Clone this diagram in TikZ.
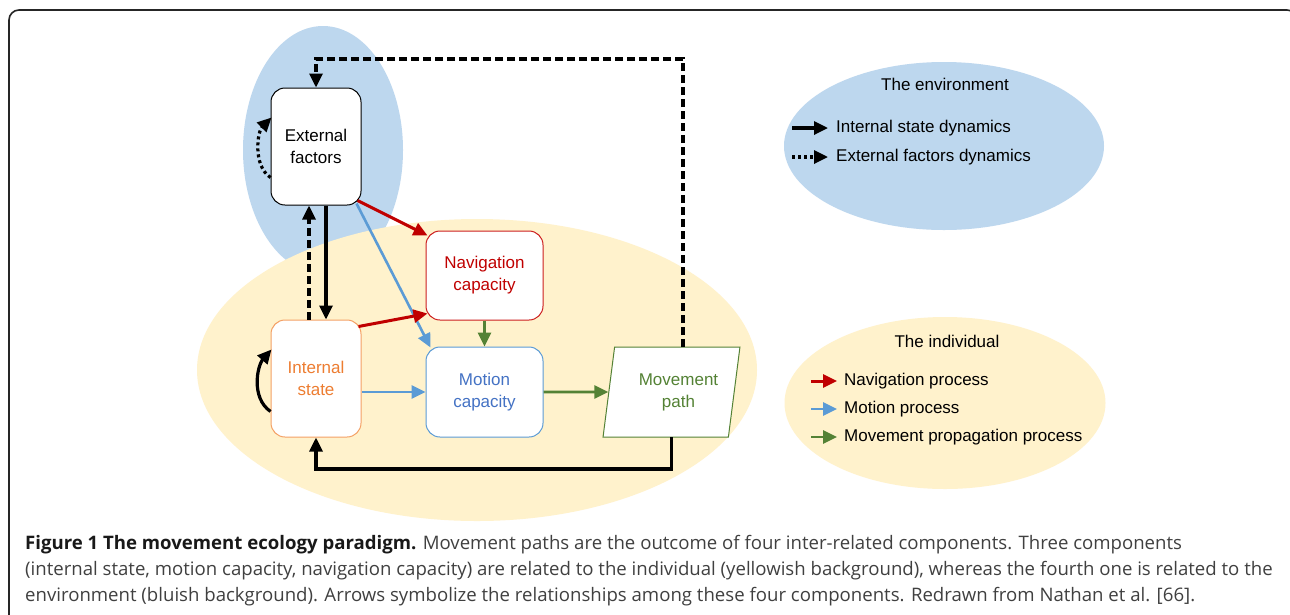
\documentclass[tikz,border=0pt]{standalone}
\usepackage{fontspec}
\setmainfont{Liberation Sans}
\newfontfamily\capfont{Open Sans}
\usetikzlibrary{arrows.meta,shapes.geometric,calc}
\definecolor{envblue}{RGB}{189,215,238}
\definecolor{indyellow}{RGB}{255,242,204}
\definecolor{navred}{RGB}{192,0,0}
\definecolor{navborder}{RGB}{204,30,30}
\definecolor{motblue}{RGB}{91,155,213}
\definecolor{mottext}{RGB}{68,114,196}
\definecolor{movgreen}{RGB}{84,130,53}
\definecolor{intorange}{RGB}{237,125,49}
\definecolor{intborder}{RGB}{244,160,100}
\definecolor{captext}{RGB}{64,64,64}
\tikzset{
  boxnode/.style={draw, fill=white, rounded corners=14pt, line width=1pt, align=center,
    inner sep=0pt, font=\fontsize{17}{22}\selectfont},
  tallbox/.style={boxnode, minimum width=90pt, minimum height=117pt},
  widebox/.style={boxnode, minimum width=117pt, minimum height=89pt},
  tip/.style={-{Triangle[length=14pt,width=13pt]}},
  blackarrow/.style={tip, line width=3.2pt, black},
  dasharrow/.style={blackarrow, dash pattern=on 8pt off 4pt},
  dotarrow/.style={blackarrow, dash pattern=on 3pt off 3pt},
  redarrow/.style={tip, line width=3pt, navred},
  bluearrow/.style={tip, line width=2.6pt, motblue},
  greenarrow/.style={tip, line width=2.9pt, movgreen},
  legtext/.style={anchor=west, inner sep=0pt, font=\fontsize{17}{20}\selectfont},
  captxt/.style={anchor=base west, inner sep=0pt, font=\capfont\fontsize{18.6}{22}\selectfont, text=captext}
}
\begin{document}
\begin{tikzpicture}[x=1pt,y=-1pt]
\useasboundingbox (0,0) rectangle (1290,614);
\fill[white] (0,0) rectangle (1290,614);
% frame
\draw[line width=1.6pt, black!85, rounded corners=10pt] (9,660) -- (9,10) -- (1297,10) -- (1297,660);
% backgrounds
\fill[envblue] (323,150) ellipse [x radius=80pt, y radius=124pt];
\fill[indyellow] (477,370) ellipse [x radius=280pt, y radius=151pt];
\fill[envblue] (944,146) ellipse [x radius=160pt, y radius=84pt];
\fill[indyellow] (945,403) ellipse [x radius=160.5pt, y radius=86pt];
% nodes
\node[tallbox] (ext) at (316,146.5) {External\\factors};
\node[tallbox, draw=intborder, text=intorange] (int) at (316,378.5) {Internal\\state};
\node[widebox, draw=navborder, text=navred] (nav) at (484.5,275.5) {Navigation\\capacity};
\node[widebox, minimum height=90pt, draw=motblue, text=mottext] (mot) at (484.5,392) {Motion\\capacity};
\node[draw=movgreen, fill=white, line width=1pt, text=movgreen, shape=trapezium,
  trapezium left angle=75.7, trapezium right angle=104.3, trapezium stretches=true,
  minimum width=137pt, minimum height=90pt, inner sep=0pt, align=center,
  font=\fontsize{17}{22}\selectfont] (mp) at (671.5,392) {\hspace*{14pt}Movement\\\hspace*{14pt}path};
% connectors
\draw[dasharrow] ($(mp.center)+(11.5,-45)$) -- ++(0,-288) -| (ext.north);
\draw[blackarrow] ($(mp.center)+(0,45)$) -- ++(0,32) -| (int.south);
\draw[dasharrow] ([xshift=-7pt]int.north) -- ([xshift=-7pt]ext.south);
\draw[blackarrow] ([xshift=10pt]ext.south) -- ([xshift=10pt]int.north);
\draw[redarrow] ($(ext.south east)+(-4,-5)$) -- ($(nav.north west)+(2,5)$);
\draw[bluearrow] ($(ext.south east)+(-5,-2)$) -- ($(mot.north west)+(5,1)$);
\draw[redarrow] ($(int.north east)+(-3,7)$) -- ($(nav.south west)+(2,-7)$);
\draw[greenarrow] (nav.south) -- (mot.north);
\draw[bluearrow] (int.east |- mot.west) -- (mot.west);
\draw[greenarrow] (mot.east) -- (mp.west);
\draw[blackarrow] ($(int.west)+(0,33)$) .. controls +(-20,-14) and +(-14,16) .. ($(int.west)+(1,-29)$);
\draw[dotarrow] ($(ext.west)+(0,31)$) .. controls +(-18,-12) and +(-14,14) .. ($(ext.west)+(1,-29)$);
% legend: environment
\node[anchor=center, inner sep=0pt, font=\fontsize{17}{20}\selectfont] (envtitle) at (945,84) {The environment};
\node[legtext] (lgint) at (836,128) {Internal state dynamics};
\node[legtext] (lgext) at (836,157) {External factors dynamics};
\coordinate (lgintstart) at (792,128);
\coordinate (lgextstart) at (792,157);
\draw[blackarrow] (lgintstart) -- ([xshift=-8pt]lgint.west);
\draw[dotarrow] (lgextstart) -- ([xshift=-8pt]lgext.west);
% legend: individual
\node[anchor=center, inner sep=0pt, font=\fontsize{17}{20}\selectfont] (indtitle) at (947,341) {The individual};
\node[legtext] (lgnav) at (844,381) {Navigation process};
\node[legtext] (lgmot) at (844,409) {Motion process};
\node[legtext] (lgmov) at (844,437) {Movement propagation process};
\coordinate (lgnavstart) at (811,381);
\coordinate (lgmotstart) at (811,409);
\coordinate (lgmovstart) at (811,437);
\draw[redarrow] (lgnavstart) -- ([xshift=-7pt]lgnav.west);
\draw[bluearrow] (lgmotstart) -- ([xshift=-7pt]lgmot.west);
\draw[greenarrow] (lgmovstart) -- ([xshift=-7pt]lgmov.west);
% caption
\node[captxt] (cap1) at (25,549) {\textcolor{black!90}{\bfseries Figure 1 The movement ecology paradigm.} Movement paths are the outcome of four inter-related components. Three components};
\node[captxt] (cap2) at (25,575) {(internal state, motion capacity, navigation capacity) are related to the individual (yellowish background), whereas the fourth one is related to the};
\node[captxt] (cap3) at (25,601) {environment (bluish background). Arrows symbolize the relationships among these four components. Redrawn from Nathan et al. [66].};
\end{tikzpicture}
\end{document}
